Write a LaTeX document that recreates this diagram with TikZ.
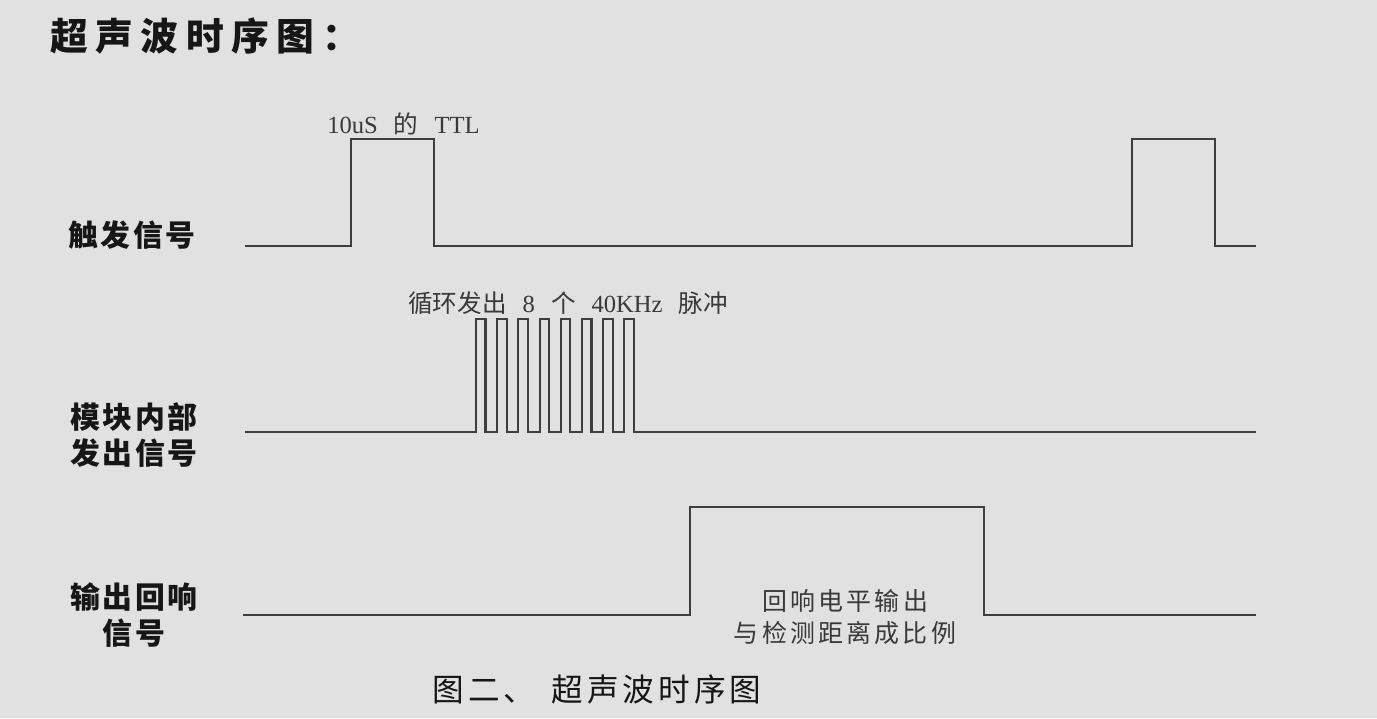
\documentclass[tikz,border=0pt]{standalone}
\usepackage{fontspec}
\setmainfont{Liberation Serif}
\newfontfamily\cjk{Noto Sans CJK SC}
\newfontfamily\cjkwide{Noto Sans CJK SC}[LetterSpace=8]
\newfontfamily\cjkwider{Noto Sans CJK SC}[LetterSpace=13]
\newfontfamily\cjktitle{Noto Sans CJK SC}[LetterSpace=20]
\newcommand{\wgap}{\hspace{0.65em}}
\definecolor{bggray}{RGB}{225,225,225}
\definecolor{wavegray}{RGB}{62,62,62}
\definecolor{ink}{RGB}{22,22,22}

\begin{document}
\begin{tikzpicture}[x=0.02cm,y=-0.02cm]
\tikzset{
% line of a waveform, and the texts round it
wave/.style={draw=wavegray,line width=1.2pt,line join=miter},
row label/.style={inner sep=0,align=center,text=ink,font=\fontsize{17}{20.5}\selectfont\cjkwide\bfseries},
note/.style={inner sep=0,text=ink!85,font=\fontsize{14}{17}\selectfont},
echo note/.style={inner sep=0,align=center,text=ink!85,font=\fontsize{14.2}{18}\selectfont\cjkwider}
}

% page and background
\useasboundingbox (0,0) rectangle (1377,718);
\fill[bggray] (0,0) rectangle (1377,718);

% Title
\node(title)[anchor=west,inner sep=0,text=ink,font=\fontsize{21.5}{24}\selectfont\cjktitle\bfseries] at (50,36) {超声波时序图：};

% Row labels
\node(trig)[row label] at (132,235) {触发信号};
\node(burst)[row label] at (134,435) {模块内部\\发出信号};
\node(echo)[row label] at (134,615) {输出回响\\信号};

% Trigger signal: two TTL pulses
\draw[wave] (245,246) -- (351,246) -- (351,139) -- (434,139) -- (434,246)
  -- (1132,246) -- (1132,139) -- (1215,139) -- (1215,246) -- (1256,246);
\node(ttl)[note,anchor=west] at (327,124) {10uS\wgap{\cjk 的}\wgap TTL};

% Module output: eight 40kHz pulses
\draw[wave] (245,432) foreach \i in {0,...,7}{
  -- ({476+21.2*\i},432) -- ++(0,-113) -- ++(9.5,0) -- ++(0,113)} -- (1256,432);
\node(pulses)[note,anchor=west] at (408,303) {{\cjk 循环发出}\wgap 8\wgap{\cjk 个}\wgap 40KHz\wgap{\cjk 脉冲}};

% Echo output
\draw[wave] (243,615) -- (690,615) -- (690,507) -- (984,507) -- (984,615) -- (1256,615);
\node(echotext)[echo note] at (845,617) {回响电平输出\\与检测距离成比例};

% Caption
\node(caption)[anchor=west,inner sep=0,text=ink,font=\fontsize{18}{20}\selectfont\cjkwider] at (432,689) {图二、\hspace{0.5em}超声波时序图};
\end{tikzpicture}
\end{document}
